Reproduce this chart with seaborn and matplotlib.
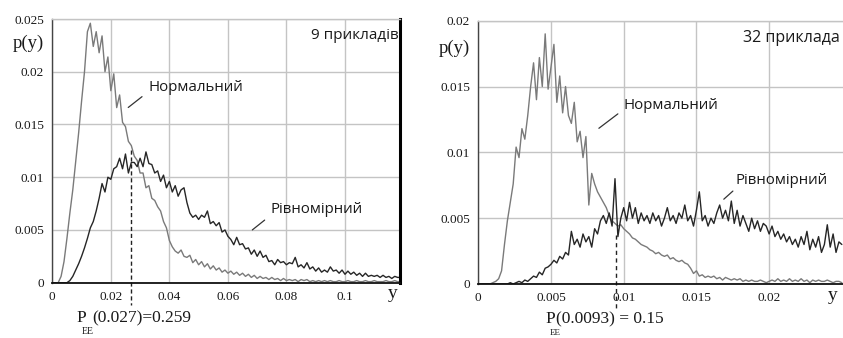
import numpy as np
import pandas as pd
import matplotlib
matplotlib.use("Agg")
import matplotlib.pyplot as plt
import seaborn as sns

# ---------------- data (values in units of 1e-4) ----------------
left_step = 0.001   # bin spacing, left panel (9 examples)
right_step = 0.0002  # bin spacing, right panel (32 examples)

left_normal = [
    0, 0, 0, 6, 20, 42, 66, 88, 115, 142,
    172, 200, 238, 246, 224, 238, 218, 234, 200, 214,
    182, 198, 166, 178, 152, 148, 134, 130, 120, 116,
    104, 104, 90, 92, 80, 78, 72, 68, 58, 52,
    40, 34, 30, 28, 31, 25, 24, 26, 19, 22,
    17, 20, 15, 18, 13, 16, 12, 14, 10, 12,
    9, 11, 8, 10, 7, 9, 6, 8, 5, 7,
    4, 6, 4, 5, 3, 5, 3, 4, 2, 4,
    2, 3, 2, 3, 1, 3, 2, 3, 1, 2,
    1, 2, 1, 2, 1, 2, 1, 1, 2, 1,
    1, 2, 1, 1, 2, 1, 1, 2, 1, 1,
    2, 1, 1, 1, 2, 1, 1, 2, 1, 1,
]
left_uniform = [
    0, 0, 0, 0, 0, 0, 2, 6, 12, 18,
    25, 33, 42, 52, 58, 68, 80, 94, 86, 100,
    98, 108, 110, 118, 108, 122, 104, 114, 114, 110,
    118, 110, 124, 113, 112, 104, 106, 96, 102, 90,
    96, 86, 92, 82, 88, 90, 76, 66, 62, 64,
    60, 64, 62, 68, 56, 58, 54, 57, 48, 50,
    44, 41, 36, 43, 36, 37, 32, 33, 27, 31,
    25, 30, 24, 26, 20, 21, 17, 22, 19, 20,
    17, 19, 18, 24, 15, 17, 14, 19, 13, 15,
    11, 14, 10, 12, 10, 15, 11, 12, 9, 12,
    8, 11, 8, 10, 7, 9, 6, 9, 6, 7,
    6, 7, 5, 7, 5, 6, 4, 6, 5, 5,
]
right_normal = [
    0, 0, 0, 0, 0, 1, 2, 4, 10, 30,
    48, 62, 76, 104, 96, 118, 110, 128, 150, 168,
    140, 172, 150, 190, 148, 165, 182, 138, 158, 130,
    150, 128, 122, 138, 108, 116, 96, 112, 60, 84,
    76, 70, 66, 62, 58, 52, 48, 46, 44, 45,
    42, 40, 38, 35, 34, 32, 30, 29, 28, 26,
    25, 23, 24, 22, 21, 22, 19, 20, 18, 17,
    18, 16, 15, 12, 8, 10, 6, 7, 5, 6,
    5, 6, 4, 5, 3, 5, 4, 3, 4, 3,
    4, 2, 3, 2, 3, 2, 2, 3, 2, 1,
    2, 3, 2, 4, 2, 3, 2, 4, 2, 3,
    2, 4, 2, 3, 1, 3, 2, 3, 2, 2,
    3, 2, 1, 2, 2, 1,
]
right_uniform = [
    0, 0, 0, 0, 0, 0, 0, 0, 0, 0,
    0, 1, 0, 1, 2, 1, 3, 2, 4, 6,
    5, 9, 7, 12, 13, 15, 18, 16, 21, 19,
    24, 22, 40, 30, 34, 28, 38, 32, 36, 28,
    42, 38, 48, 52, 46, 54, 44, 80, 36, 50,
    58, 48, 62, 50, 58, 46, 54, 48, 52, 46,
    54, 48, 52, 44, 50, 58, 48, 52, 46, 54,
    50, 60, 48, 52, 44, 56, 70, 48, 52, 44,
    50, 46, 54, 60, 50, 56, 48, 63, 46, 56,
    44, 52, 46, 40, 50, 42, 48, 40, 46, 44,
    38, 44, 36, 40, 34, 38, 32, 36, 30, 34,
    28, 36, 30, 40, 26, 34, 28, 36, 24, 30,
    45, 28, 38, 24, 32, 30,
]

left_ticks_x = [0, 0.02, 0.04, 0.06, 0.08, 0.1]
left_ticks_y = [0, 0.005, 0.01, 0.015, 0.02, 0.025]
left_ticklabels_y = ["0", "0.005", "0.01", "0.015", "0.02", "0.025"]
right_ticks_x = [0, 0.005, 0.01, 0.015, 0.02]
right_ticks_y = [0, 0.005, 0.01, 0.015, 0.02]
right_ticklabels_y = ["0", "0.005", "0.01", "0.015", "0.02"]

left_pee_x, left_pee_text = 0.027, "(0.027)=0.259"
right_pee_x, right_pee_text = 0.0095, "(0.0093) = 0.15"


def frame(values, step):
    v = np.array(values, dtype=float) * 1e-4
    return pd.DataFrame({"y": np.arange(len(v)) * step, "p": v})


dl_n = frame(left_normal, left_step)
dl_u = frame(left_uniform, left_step)
dr_n = frame(right_normal, right_step)
dr_u = frame(right_uniform, right_step)

# ---------------- figure ----------------
sns.set_theme(style="white")
plt.rcParams["font.family"] = ["DejaVu Sans"]

W, H = 843, 338
fig = plt.figure(figsize=(W / 100, H / 100), dpi=100)
fig.patch.set_facecolor("white")


def px_axes(l, r, t, b):
    return fig.add_axes([l / W, 1 - b / H, (r - l) / W, (b - t) / H])


axL = px_axes(52.3, 400, 19, 282.7)
axR = px_axes(478.3, 843, 20.7, 284)

GRID = "#c4c4c4"
NCOL = "#7a7a7a"
UCOL = "#262626"
TXT = "#1a1a1a"
SERIF = "Liberation Serif"
SANS = "Open Sans"


def style(ax, xlim, ylim, xt, yt, ylab, show_right=True):
    ax.set_xlim(*xlim)
    ax.set_ylim(*ylim)
    ax.set_xticks(xt)
    ax.set_xticklabels([("0" if v == 0 else f"{v:g}") for v in xt],
                       fontfamily=SERIF, fontsize=9.5, color=TXT)
    ax.set_yticks(yt)
    ax.set_yticklabels(ylab, fontfamily=SERIF, fontsize=9.5, color=TXT)
    ax.tick_params(axis="x", length=0, pad=6)
    ax.tick_params(axis="y", length=0, pad=6)
    ax.grid(True, color=GRID, lw=1.0)
    ax.set_axisbelow(True)
    ax.set_xlabel("")
    ax.set_ylabel("")
    ax.spines["left"].set_color("#444444")
    ax.spines["left"].set_linewidth(1.0)
    ax.spines["bottom"].set_color("#111111")
    ax.spines["bottom"].set_linewidth(1.3)
    ax.spines["top"].set_color(GRID)
    ax.spines["top"].set_linewidth(1.0)
    if show_right:
        ax.spines["right"].set_color("#000000")
        ax.spines["right"].set_linewidth(2.2)
    else:
        ax.spines["right"].set_visible(False)


# left panel
sns.lineplot(data=dl_n, x="y", y="p", ax=axL, color=NCOL, lw=1.0)
sns.lineplot(data=dl_u, x="y", y="p", ax=axL, color=UCOL, lw=1.0)
style(axL, (0, 0.1188), (0, 0.025), left_ticks_x, left_ticks_y, left_ticklabels_y)

# right panel
sns.lineplot(data=dr_n, x="y", y="p", ax=axR, color=NCOL, lw=1.0)
sns.lineplot(data=dr_u, x="y", y="p", ax=axR, color=UCOL, lw=1.0)
style(axR, (0, 0.02508), (0, 0.02), right_ticks_x, right_ticks_y, right_ticklabels_y,
      show_right=False)

# dashed markers
axL.plot([left_pee_x, left_pee_x], [0.0126, -0.00212], ls=(0, (3, 2)), color="#222222",
         lw=1.0, clip_on=False)
axR.plot([right_pee_x, right_pee_x], [0.0037, -0.00198], ls=(0, (3, 2.5)), color="#222222",
         lw=1.0, clip_on=False)

# labels inside panels
axL.text(0.1185, 0.0234, "9 прикладів", ha="right", va="center", fontsize=11,
         fontfamily=SANS, color=TXT)
axL.text(0.0327, 0.01847, "Нормальний", ha="left", va="center", fontsize=10.8,
         fontfamily=SANS, color=TXT)
axL.annotate("", xy=(0.0252, 0.01645), xytext=(0.0314, 0.0178),
             arrowprops=dict(arrowstyle="-", color="#333333", lw=0.9))
axL.text(0.0744, 0.0069, "Рівномірний", ha="left", va="center", fontsize=10.8,
         fontfamily=SANS, color=TXT)
axL.annotate("", xy=(0.0676, 0.00484), xytext=(0.0733, 0.0061),
             arrowprops=dict(arrowstyle="-", color="#333333", lw=0.9))

axR.text(0.0182, 0.01867, "32 приклада", ha="left", va="center", fontsize=11.5,
         fontfamily=SANS, color=TXT)
axR.text(0.00997, 0.01353, "Нормальний", ha="left", va="center", fontsize=10.8,
         fontfamily=SANS, color=TXT)
axR.annotate("", xy=(0.00814, 0.0117), xytext=(0.00975, 0.01305),
             arrowprops=dict(arrowstyle="-", color="#333333", lw=0.9))
axR.text(0.01772, 0.00783, "Рівномірний", ha="left", va="center", fontsize=10.8,
         fontfamily=SANS, color=TXT)
axR.annotate("", xy=(0.01674, 0.0063), xytext=(0.01765, 0.0072),
             arrowprops=dict(arrowstyle="-", color="#333333", lw=0.9))

# axis names
fig.text(28 / W, 1 - 43 / H, "p(y)", ha="center", va="center", fontsize=13.5,
         fontfamily=SERIF, color=TXT)
fig.text(454 / W, 1 - 48 / H, "p(y)", ha="center", va="center", fontsize=13.5,
         fontfamily=SERIF, color=TXT)
fig.text(393 / W, 1 - 294 / H, "y", ha="center", va="center", fontsize=14,
         fontfamily=SERIF, color=TXT)
fig.text(833 / W, 1 - 295 / H, "y", ha="center", va="center", fontsize=14,
         fontfamily=SERIF, color=TXT)

# P_EE annotations
fig.text(76 / W, 1 - 318 / H, "P", ha="left", va="center", fontsize=12.5,
         fontfamily=SERIF, color=TXT)
fig.text(92 / W, 1 - 318 / H, left_pee_text, ha="left", va="center", fontsize=12.5,
         fontfamily=SERIF, color=TXT)
fig.text(82 / W, 1 - 331 / H, "EE", ha="left", va="center", fontsize=7,
         fontfamily=SERIF, color=TXT)

fig.text(545 / W, 1 - 319 / H, "P", ha="left", va="center", fontsize=12.5,
         fontfamily=SERIF, color=TXT)
fig.text(556 / W, 1 - 319 / H, right_pee_text, ha="left", va="center", fontsize=12.5,
         fontfamily=SERIF, color=TXT)
fig.text(550 / W, 1 - 333 / H, "EE", ha="left", va="center", fontsize=6.5,
         fontfamily=SERIF, color=TXT)

fig.savefig("out.png", dpi=100, facecolor="white")
